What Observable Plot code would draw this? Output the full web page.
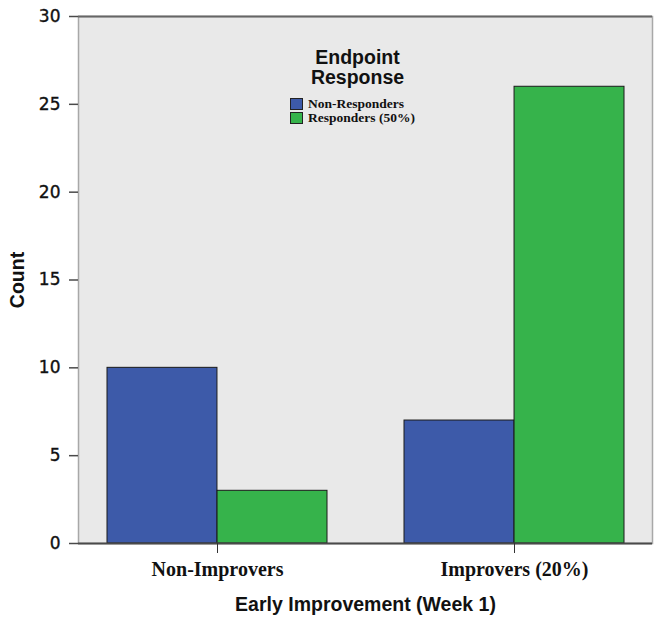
<!DOCTYPE html>
<html><head><meta charset="utf-8">
<script src="https://cdn.jsdelivr.net/npm/d3@7"></script>
<script src="https://cdn.jsdelivr.net/npm/@observablehq/plot@0.6"></script>
<style>
body{margin:0;background:#fff;}
#wrap{position:relative;width:662px;height:623px;}
#wrap svg{display:block;}
g[aria-label="y-axis tick label"]{font-family:"DejaVu Sans",sans-serif;font-size:17px;fill:#111;stroke:#111;stroke-width:0.35px;}
g[aria-label="x-axis tick label"]{font-family:"Liberation Serif",serif;font-weight:bold;font-size:20px;fill:#111;}
g[aria-label="y-axis label"], g[aria-label="x-axis label"]{font-family:"Liberation Sans",Arial,sans-serif;font-weight:bold;font-size:19.5px;fill:#111;}
#legend{position:absolute;left:0;top:0;pointer-events:none;}
#ltitle{position:absolute;left:257px;top:47px;width:201px;text-align:center;font-family:"Liberation Sans",Arial,sans-serif;font-weight:bold;font-size:19.5px;line-height:20px;color:#111;}
.lrow{position:absolute;left:290px;height:13px;line-height:13px;display:flex;align-items:center;white-space:nowrap;font-family:"Liberation Serif",serif;font-weight:bold;font-size:13.5px;color:#111;}
.sw{width:11px;height:10px;border:1px solid #222;margin-right:5px;}
</style></head><body><div id="wrap"></div>
<script>
const improvement = ["Non-Improvers", "Improvers (20%)"];
const responseGroups = ["Non-Responders", "Responders (50%)"];
const nonResponderCounts = [10, 7];
const responderCounts = [3, 26];
const yTicks = [0, 5, 10, 15, 20, 25, 30];
const seriesColors = ["#3d5aa9", "#36b34b"];

const W = 662, H = 623, mL = 78, mR = 10, mT = 16, mB = 80;
const xOpts = {type: "band", domain: improvement, range: [mL, W - mR], paddingInner: 0.26, paddingOuter: 0.095};
const bw = Plot.scale({x: xOpts}).bandwidth;

const nonData = improvement.map((g, i) => ({group: g, response: responseGroups[0], count: nonResponderCounts[i]}));
const resData = improvement.map((g, i) => ({group: g, response: responseGroups[1], count: responderCounts[i]}));

const plot = Plot.plot({
  width: W, height: H, marginTop: mT, marginLeft: mL, marginRight: mR, marginBottom: mB,
  x: {domain: improvement, paddingInner: 0.26, paddingOuter: 0.095, label: "Early Improvement (Week 1)"},
  y: {domain: [0, 30], label: "Count"},
  color: {domain: responseGroups, range: seriesColors},
  marks: [
    Plot.frame({fill: "#e9e9e9", stroke: "#a8a8a8", strokeWidth: 1.5}),
    Plot.barY(nonData, {x: "group", y: "count", fill: "response", stroke: "#1a1a1a", strokeWidth: 1, insetLeft: 0, insetRight: bw / 2}),
    Plot.barY(resData, {x: "group", y: "count", fill: "response", stroke: "#1a1a1a", strokeWidth: 1, insetLeft: bw / 2, insetRight: 0}),
    Plot.ruleY([0], {stroke: "#4a4a4a", strokeWidth: 2}),
    Plot.ruleY([30], {stroke: "#666", strokeWidth: 2}),
    Plot.axisY({ticks: yTicks, tickSize: 9, tickPadding: 9, stroke: "#4a4a4a", strokeWidth: 1.5, line: true, label: "Count", labelAnchor: "center", labelOffset: 68, labelArrow: "none"}),
    Plot.axisX({anchor: "bottom", tickSize: 10, tickPadding: 8, stroke: "#333", label: "Early Improvement (Week 1)", labelAnchor: "center", labelOffset: 67, labelArrow: "none"})
  ]
});
const wrap = document.getElementById("wrap");
wrap.appendChild(plot);

const legend = document.createElement("div");
legend.id = "legend";
legend.innerHTML = `<div id="ltitle">Endpoint<br>Response</div>` +
  responseGroups.map((r, i) => `<div class="lrow" style="top:${97 + i * 14}px"><span class="sw" style="background:${seriesColors[i]}"></span>${r}</div>`).join("");
wrap.appendChild(legend);
</script></body></html>
